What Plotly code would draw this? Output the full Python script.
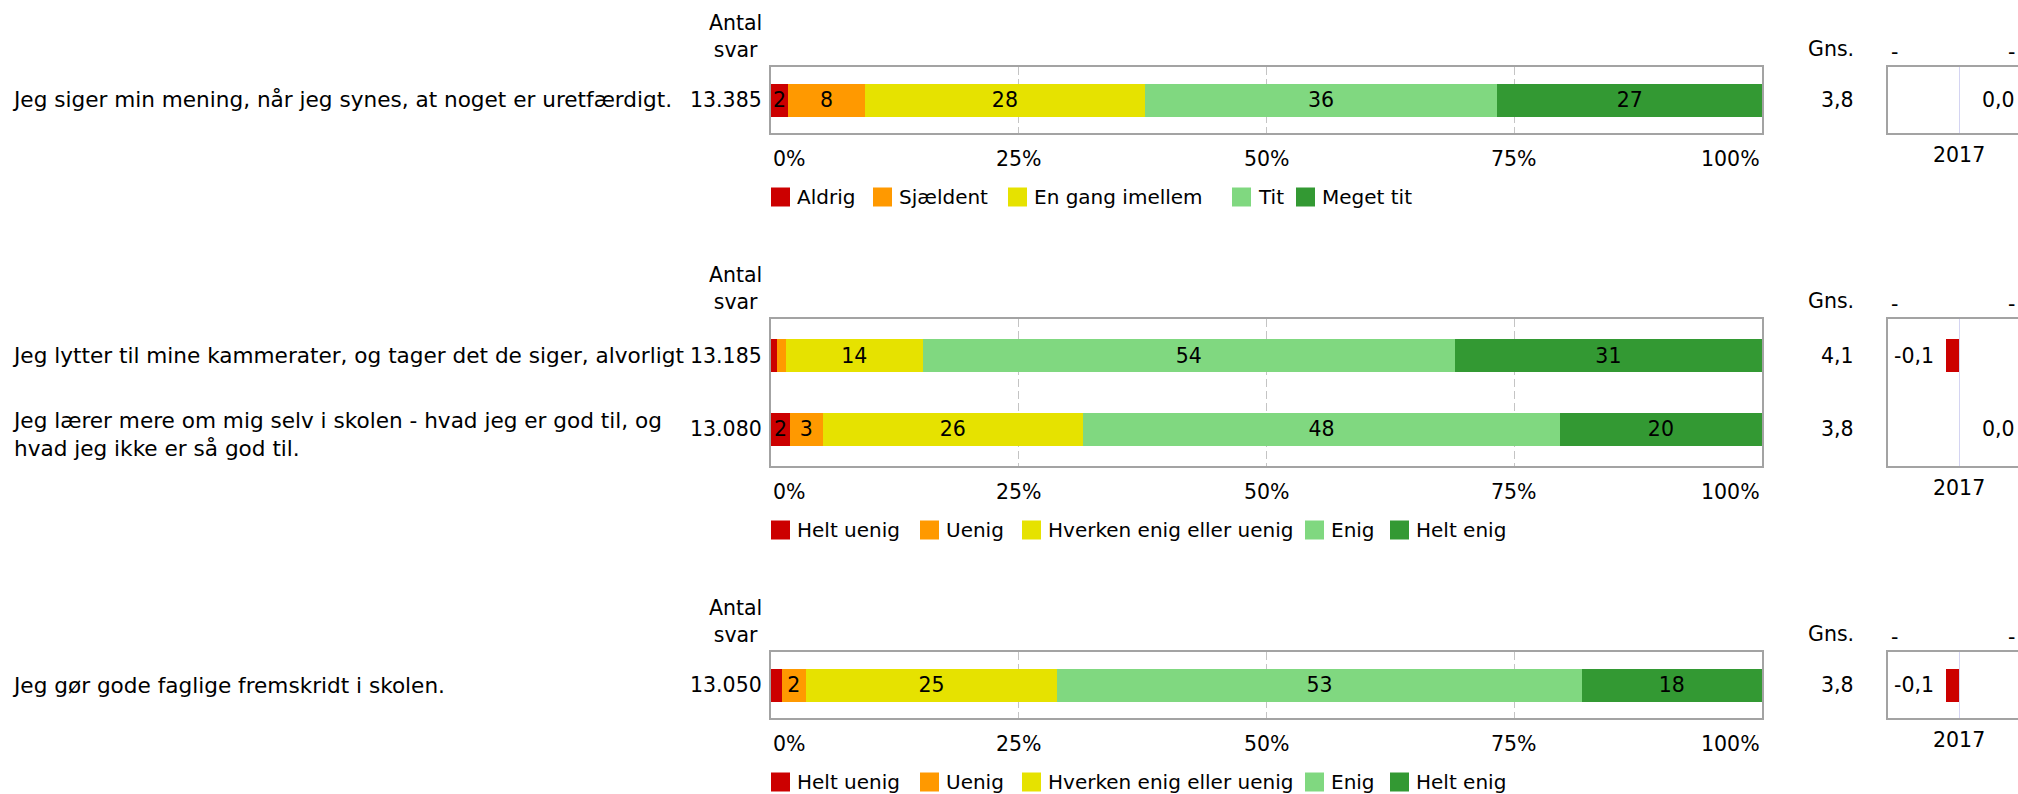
import plotly.graph_objects as go

# ---------------------------------------------------------------- data
FREQ_SCALE = ["Aldrig", "Sjældent", "En gang imellem", "Tit", "Meget tit"]
AGREE_SCALE = ["Helt uenig", "Uenig", "Hverken enig eller uenig", "Enig", "Helt enig"]
OPTION_COLORS = ["#CC0000", "#FF9900", "#E6E200", "#80D880", "#339933"]

items_1 = ["Jeg siger min mening, når jeg synes, at noget er uretfærdigt."]
counts_1 = [13385]
means_1 = [3.8]
change_1 = [0.0]
pct_1 = [[1.7, 7.8, 28.2, 35.6, 26.7]]

items_2 = [
    "Jeg lytter til mine kammerater, og tager det de siger, alvorligt",
    "Jeg lærer mere om mig selv i skolen - hvad jeg er god til, og<br>hvad jeg ikke er så god til.",
]
counts_2 = [13185, 13080]
means_2 = [4.1, 3.8]
change_2 = [-0.1, 0.0]
pct_2 = [[0.6, 0.9, 13.8, 53.7, 31.0],
         [1.9, 3.3, 26.3, 48.1, 20.4]]

items_3 = ["Jeg gør gode faglige fremskridt i skolen."]
counts_3 = [13050]
means_3 = [3.8]
change_3 = [-0.1]
pct_3 = [[1.1, 2.4, 25.4, 52.9, 18.2]]

PCT_TICKS = [0, 25, 50, 75, 100]
YEAR_LABEL = "2017"

# ---------------------------------------------------------------- layout constants (pixels)
W, H = 2018, 794
FONT = "DejaVu Sans"
FS = 20.5
FS_ITEM = 21.6
FS_LEGEND = 20
BOX_COLOR = "#A3A3A3"
GRID_COLOR = "#C4C4C4"
ZERO_COLOR = "#D4D4F2"

MAIN_L, MAIN_R = 771, 1762
MINI_L, MINI_ZERO = 1888, 1959
MINI_PX_PER_UNIT = 130.0
BAR_PX = 33

sections = [
    dict(items=items_1, counts=counts_1, means=means_1, change=change_1, pct=pct_1,
         scale=FREQ_SCALE, top=67, bottom=133, legend_px=[771, 873, 1008, 1232, 1296]),
    dict(items=items_2, counts=counts_2, means=means_2, change=change_2, pct=pct_2,
         scale=AGREE_SCALE, top=319, bottom=466, legend_px=[771, 920, 1022, 1305, 1390]),
    dict(items=items_3, counts=counts_3, means=means_3, change=change_3, pct=pct_3,
         scale=AGREE_SCALE, top=652, bottom=718, legend_px=[771, 920, 1022, 1305, 1390]),
]


def px_x(p):
    return p / W


def px_y(p):
    return 1 - p / H


def dk_int(n):
    return f"{n:,}".replace(",", ".")


def dk_dec(v):
    return f"{v:.1f}".replace(".", ",")


def seg_label(v):
    r = round(v)
    return str(r) if r >= 2 else ""


fig = go.Figure()
annotations = []
shapes = []
layout_axes = {}
txt = dict(family=FONT, size=FS, color="#000000")
txt_item = dict(family=FONT, size=FS_ITEM, color="#000000")
txt_legend = dict(family=FONT, size=FS_LEGEND, color="#000000")

mini_range = [(MINI_L - MINI_ZERO) / MINI_PX_PER_UNIT, (W - MINI_ZERO) / MINI_PX_PER_UNIT]

for i, s in enumerate(sections):
    a = i + 1          # main axes index
    m = i + 4          # change axes index
    xa, ya = f"x{a if a > 1 else ''}", f"y{a if a > 1 else ''}"
    xm, ym = f"x{m}", f"y{m}"
    n = len(s["items"])
    ydom = [px_y(s["bottom"]), px_y(s["top"])]
    bw = BAR_PX / ((s["bottom"] - s["top"]) / n)

    # stacked distribution bars
    for j, opt in enumerate(s["scale"]):
        vals = [row[j] for row in s["pct"]]
        fig.add_trace(go.Bar(
            y=s["items"], x=vals, orientation="h", name=opt,
            marker=dict(color=OPTION_COLORS[j], line=dict(width=0)),
            width=bw, text=[seg_label(v) for v in vals],
            textposition="inside", insidetextanchor="middle", constraintext="none",
            textfont=txt, xaxis=xa, yaxis=ya, showlegend=False, hoverinfo="skip",
        ))

    # change vs. previous year
    fig.add_trace(go.Bar(
        y=s["items"], x=s["change"], orientation="h",
        marker=dict(color="#CC0000", line=dict(width=0)), width=bw,
        xaxis=xm, yaxis=ym, showlegend=False, hoverinfo="skip",
    ))

    key_a = "" if a == 1 else str(a)
    layout_axes[f"xaxis{key_a}"] = dict(
        domain=[px_x(MAIN_L), px_x(MAIN_R)], range=[0, 100], anchor=ya,
        tickvals=PCT_TICKS, showticklabels=False, showgrid=True,
        gridcolor=GRID_COLOR, griddash="8px,4px", gridwidth=1, zeroline=False,
        showline=True, mirror=True, linecolor=BOX_COLOR, linewidth=2, fixedrange=True,
    )
    layout_axes[f"yaxis{key_a}"] = dict(
        domain=ydom, type="category", categoryorder="array", categoryarray=s["items"],
        range=[n - 0.5, -0.5], anchor=xa, showticklabels=False, showgrid=False,
        zeroline=False, showline=True, mirror=True, linecolor=BOX_COLOR, linewidth=2,
        fixedrange=True,
    )
    layout_axes[f"xaxis{m}"] = dict(
        domain=[px_x(MINI_L), 1.0], range=mini_range, anchor=ym,
        showticklabels=False, showgrid=False, zeroline=True, zerolinecolor=ZERO_COLOR,
        zerolinewidth=1, showline=True, mirror=True, linecolor=BOX_COLOR, linewidth=2,
        fixedrange=True,
    )
    layout_axes[f"yaxis{m}"] = dict(
        domain=ydom, type="category", categoryorder="array", categoryarray=s["items"],
        range=[n - 0.5, -0.5], anchor=xm, showticklabels=False, showgrid=False,
        zeroline=False, showline=True, mirror=False, linecolor=BOX_COLOR, linewidth=2,
        fixedrange=True,
    )

    top, bot = s["top"], s["bottom"]
    # headers
    annotations.append(dict(text="Antal<br>svar", x=px_x(735), y=px_y(top - 30.5),
                            xref="paper", yref="paper", xanchor="center", yanchor="middle",
                            showarrow=False, font=txt, align="center"))
    annotations.append(dict(text="Gns.", x=px_x(1856), y=px_y(top - 18),
                            xref="paper", yref="paper", xanchor="right", yanchor="middle",
                            showarrow=False, font=txt))
    for hx in (1894, 2011):
        annotations.append(dict(text="-", x=px_x(hx), y=px_y(top - 15),
                                xref="paper", yref="paper", xanchor="center", yanchor="middle",
                                showarrow=False, font=txt))

    # per-item texts
    for k, item in enumerate(s["items"]):
        multi = "<br>" in item
        annotations.append(dict(text=item, x=px_x(10), y=item, xref="paper", yref=ya,
                                xanchor="left", yanchor="middle", align="left",
                                yshift=-5 if multi else 0, showarrow=False, font=txt_item))
        annotations.append(dict(text=dk_int(s["counts"][k]), x=px_x(764), y=item,
                                xref="paper", yref=ya, xanchor="right", yanchor="middle",
                                showarrow=False, font=txt))
        annotations.append(dict(text=dk_dec(s["means"][k]), x=px_x(1856), y=item,
                                xref="paper", yref=ya, xanchor="right", yanchor="middle",
                                showarrow=False, font=txt))
        c = s["change"][k]
        annotations.append(dict(text=dk_dec(c), x=c, y=item, xref=xm, yref=ym,
                                xanchor="right" if c < 0 else "left",
                                xshift=-10 if c < 0 else 21, yanchor="middle",
                                showarrow=False, font=txt))

    # percentage tick labels
    for t in PCT_TICKS:
        anchor = "left" if t == PCT_TICKS[0] else ("right" if t == PCT_TICKS[-1] else "center")
        annotations.append(dict(text=f"{t}%", x=t, y=px_y(bot + 26), xref=xa, yref="paper",
                                xanchor=anchor, yanchor="middle", showarrow=False, font=txt))
    annotations.append(dict(text=YEAR_LABEL, x=0, y=px_y(bot + 22), xref=xm, yref="paper",
                            xanchor="center", yanchor="middle", showarrow=False, font=txt))

    # legend
    ly = bot + 64
    for j, opt in enumerate(s["scale"]):
        lx = s["legend_px"][j]
        shapes.append(dict(type="rect", xref="paper", yref="paper",
                           x0=px_x(lx), x1=px_x(lx + 19), y0=px_y(ly - 9.5), y1=px_y(ly + 9.5),
                           fillcolor=OPTION_COLORS[j], line=dict(width=0)))
        annotations.append(dict(text=opt, x=px_x(lx + 24), y=px_y(ly), xref="paper",
                                yref="paper", xanchor="left", yanchor="middle",
                                showarrow=False, font=txt_legend))

fig.update_layout(
    width=W, height=H, margin=dict(l=0, r=0, t=0, b=0),
    paper_bgcolor="white", plot_bgcolor="white",
    barmode="stack", showlegend=False, font=txt,
    annotations=annotations, shapes=shapes, **layout_axes,
)

fig.write_html("out.html", config={"displayModeBar": False})
